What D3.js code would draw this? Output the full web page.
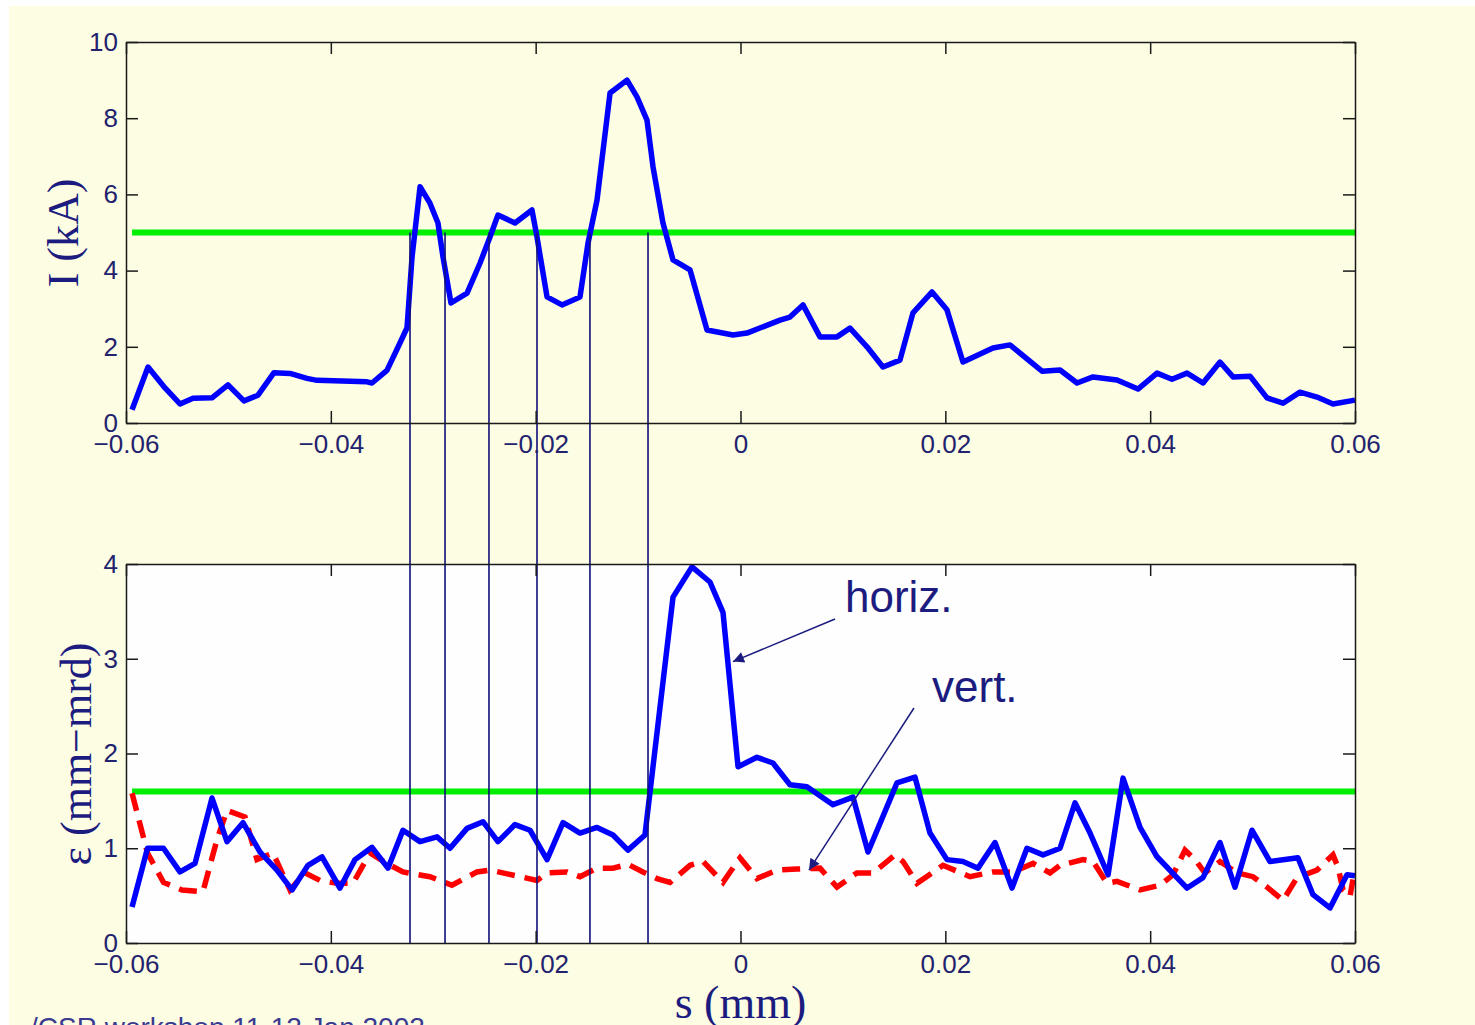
<!DOCTYPE html>
<html>
<head>
<meta charset="utf-8">
<script src="https://cdn.jsdelivr.net/npm/d3@7"></script>
<style>
  body { margin: 0; background: #fff; overflow: hidden; }
  .tick text { font-family: Arial, "Liberation Sans", sans-serif; font-size: 26px; fill: #22226e; }
  .tick line, .domain { stroke: #1a1a1a; stroke-width: 1.5; }
</style>
</head>
<body>
<div id="chart"></div>
<script>
// current profile (top)
const sTop = [-0.05941, -0.05785, -0.05619, -0.05473, -0.05346, -0.05160, -0.05004, -0.04848, -0.04711, -0.04555,
  -0.04399, -0.04233, -0.04135, -0.03647, -0.03598, -0.03452, -0.03325, -0.03256, -0.03207, -0.03129,
  -0.03032, -0.02954, -0.02905, -0.02827, -0.02670, -0.02543, -0.02446, -0.02368, -0.02202, -0.02036,
  -0.01987, -0.01889, -0.01743, -0.01567, -0.01489, -0.01401, -0.01274, -0.01108, -0.01011, -0.00913,
  -0.00854, -0.00757, -0.00659, -0.00493, -0.00327, -0.00073, 0.00063, 0.00386, 0.00483, 0.00610,
  0.00776, 0.00942, 0.01069, 0.01235, 0.01391, 0.01557, 0.01684, 0.01870, 0.02016, 0.02172,
  0.02465, 0.02631, 0.02944, 0.03120, 0.03286, 0.03442, 0.03676, 0.03881, 0.04067, 0.04213,
  0.04360, 0.04516, 0.04682, 0.04809, 0.04975, 0.05141, 0.05297, 0.05463, 0.05629, 0.05785, 0.06];
const current = [0.35, 1.47, 0.92, 0.5, 0.65, 0.66, 1.0, 0.58, 0.73, 1.32,
  1.3, 1.17, 1.12, 1.08, 1.05, 1.38, 2.1, 2.5, 4.36, 6.2,
  5.77, 5.25, 4.36, 3.15, 3.41, 4.2, 4.88, 5.46, 5.25, 5.59,
  4.88, 3.31, 3.1, 3.31, 4.72, 5.85, 8.66, 9.0, 8.56, 7.95,
  6.72, 5.25, 4.28, 4.02, 2.44, 2.31, 2.36, 2.7, 2.78, 3.1,
  2.26, 2.26, 2.49, 2.0, 1.47, 1.65, 2.89, 3.44, 2.97, 1.6,
  1.97, 2.05, 1.36, 1.39, 1.05, 1.21, 1.13, 0.89, 1.31, 1.15,
  1.31, 1.05, 1.6, 1.21, 1.23, 0.66, 0.52, 0.81, 0.68, 0.5, 0.6];

// horizontal emittance (bottom, solid)
const sHoriz = [-0.05941, -0.05790, -0.05634, -0.05473, -0.05326, -0.05160, -0.05014, -0.04858, -0.04691, -0.04526,
  -0.04379, -0.04223, -0.04086, -0.03911, -0.03764, -0.03598, -0.03442, -0.03296, -0.03129, -0.02963,
  -0.02836, -0.02670, -0.02514, -0.02368, -0.02202, -0.02055, -0.01889, -0.01733, -0.01567, -0.01401,
  -0.01245, -0.01099, -0.00933, -0.00659, -0.00474, -0.00298, -0.00171, -0.00024, 0.00161, 0.00317,
  0.00483, 0.00649, 0.00903, 0.01098, 0.01245, 0.01528, 0.01704, 0.01850, 0.02016, 0.02172,
  0.02319, 0.02485, 0.02651, 0.02797, 0.02954, 0.03120, 0.03266, 0.03413, 0.03589, 0.03735,
  0.03901, 0.04067, 0.04360, 0.04516, 0.04682, 0.04828, 0.04994, 0.05170, 0.05443, 0.05590,
  0.05756, 0.05922, 0.06];
const emitHoriz = [0.38, 1.0, 1.0, 0.75, 0.84, 1.53, 1.07, 1.27, 0.96, 0.77,
  0.56, 0.82, 0.91, 0.58, 0.88, 1.01, 0.79, 1.19, 1.07, 1.12,
  1.0, 1.21, 1.28, 1.07, 1.25, 1.19, 0.88, 1.27, 1.16, 1.22,
  1.14, 0.98, 1.14, 3.65, 3.97, 3.81, 3.49, 1.86, 1.96, 1.9,
  1.67, 1.65, 1.46, 1.54, 0.96, 1.69, 1.75, 1.16, 0.88, 0.86,
  0.79, 1.06, 0.58, 1.0, 0.93, 1.0, 1.48, 1.16, 0.72, 1.74,
  1.22, 0.91, 0.58, 0.69, 1.06, 0.59, 1.19, 0.86, 0.9, 0.51,
  0.37, 0.72, 0.71];

// vertical emittance (bottom, dashed)
const sVert = [-0.05941, -0.05790, -0.05634, -0.05454, -0.05249, -0.05112, -0.05014, -0.04838, -0.04721, -0.04565,
  -0.04399, -0.04253, -0.04106, -0.03940, -0.03784, -0.03618, -0.03452, -0.03296, -0.03032, -0.02817,
  -0.02573, -0.02446, -0.02153, -0.01987, -0.01889, -0.01694, -0.01567, -0.01401, -0.01245, -0.01099,
  -0.00952, -0.00815, -0.00688, -0.00493, -0.00366, -0.00171, -0.00005, 0.00161, 0.00356, 0.00552,
  0.00776, 0.00942, 0.01137, 0.01294, 0.01509, 0.01587, 0.01723, 0.01977, 0.02241, 0.02465,
  0.02661, 0.02856, 0.03022, 0.03120, 0.03345, 0.03442, 0.03579, 0.03676, 0.03901, 0.04096,
  0.04223, 0.04340, 0.04438, 0.04535, 0.04682, 0.04848, 0.05004, 0.05141, 0.05297, 0.05434,
  0.05629, 0.05785, 0.05834, 0.05883, 0.05951, 0.05980];
const emitVert = [1.58, 0.95, 0.64, 0.56, 0.54, 1.09, 1.4, 1.33, 0.88, 0.95,
  0.56, 0.74, 0.66, 0.63, 0.63, 0.95, 0.84, 0.75, 0.7, 0.61,
  0.75, 0.77, 0.7, 0.66, 0.74, 0.75, 0.7, 0.79, 0.79, 0.83,
  0.75, 0.68, 0.64, 0.82, 0.86, 0.64, 0.9, 0.68, 0.77, 0.78,
  0.79, 0.59, 0.74, 0.74, 0.93, 0.86, 0.63, 0.82, 0.7, 0.75,
  0.75, 0.84, 0.74, 0.82, 0.88, 0.86, 0.63, 0.65, 0.56, 0.61,
  0.72, 0.98, 0.88, 0.74, 0.86, 0.74, 0.7, 0.59, 0.45, 0.69,
  0.77, 0.93, 0.8, 0.56, 0.49, 0.67];

// thresholds and slice boundaries
const currentLevel = 5;
const emitLevel = 1.6;
const crossings = [-0.03227, -0.02885, -0.02456, -0.01987, -0.01470, -0.00903];

const xTicks = [-0.06, -0.04, -0.02, 0, 0.02, 0.04, 0.06];
const yTopTicks = [0, 2, 4, 6, 8, 10];
const yBotTicks = [0, 1, 2, 3, 4];

const W = 1475, H = 1025;
const navy = "#1c1c80";

const svg = d3.select("#chart").append("svg")
  .attr("width", W).attr("height", H);

svg.append("rect").attr("x", 9).attr("y", 6)
  .attr("width", W - 9).attr("height", H - 6).attr("fill", "#fdfde3");

const left = 126, right = 1355;
const x = d3.scaleLinear().domain([-0.06, 0.06]).range([left, right]);
const yTop = d3.scaleLinear().domain([0, 10]).range([423, 42]);
const yBot = d3.scaleLinear().domain([0, 4]).range([943, 564]);

svg.append("rect")
  .attr("x", left).attr("y", yBot(4))
  .attr("width", right - left).attr("height", yBot(0) - yBot(4))
  .attr("fill", "#fefefe");

const fmt = d3.format("~g");

function frame(y, ticks) {
  const [y0, y1] = y.range();
  svg.append("g").attr("transform", `translate(0,${y0})`)
    .call(d3.axisBottom(x).tickValues(xTicks).tickFormat(fmt).tickSize(-12).tickSizeOuter(0).tickPadding(12));
  svg.append("g").attr("transform", `translate(0,${y1})`)
    .call(d3.axisTop(x).tickValues(xTicks).tickFormat("").tickSize(-12).tickSizeOuter(0));
  svg.append("g").attr("transform", `translate(${left},0)`)
    .call(d3.axisLeft(y).tickValues(ticks).tickFormat(fmt).tickSize(-12).tickSizeOuter(0).tickPadding(8));
  svg.append("g").attr("transform", `translate(${right},0)`)
    .call(d3.axisRight(y).tickValues(ticks).tickFormat("").tickSize(-12).tickSizeOuter(0));
}

// threshold lines
svg.append("line")
  .attr("x1", x(sTop[0])).attr("x2", x(0.06))
  .attr("y1", yTop(currentLevel)).attr("y2", yTop(currentLevel))
  .attr("stroke", "#00ee00").attr("stroke-width", 6);
svg.append("line")
  .attr("x1", x(sHoriz[0])).attr("x2", x(0.06))
  .attr("y1", yBot(emitLevel)).attr("y2", yBot(emitLevel))
  .attr("stroke", "#00ee00").attr("stroke-width", 6);

const lineTop = d3.line().x(d => x(d[0])).y(d => yTop(d[1]));
const lineBot = d3.line().x(d => x(d[0])).y(d => yBot(d[1]));

svg.append("path")
  .datum(d3.zip(sTop, current))
  .attr("d", lineTop)
  .attr("fill", "none").attr("stroke", "#0000ff").attr("stroke-width", 5.5)
  .attr("stroke-linejoin", "round");

svg.append("path")
  .datum(d3.zip(sVert, emitVert))
  .attr("d", lineBot)
  .attr("fill", "none").attr("stroke", "#ff0000").attr("stroke-width", 5.5)
  .attr("stroke-dasharray", "18,10");

svg.append("path")
  .datum(d3.zip(sHoriz, emitHoriz))
  .attr("d", lineBot)
  .attr("fill", "none").attr("stroke", "#0000ff").attr("stroke-width", 5.5)
  .attr("stroke-linejoin", "round");

// slice boundaries
svg.selectAll(".cut")
  .data(crossings)
  .enter()
  .append("line")
  .attr("class", "cut")
  .attr("x1", d => x(d)).attr("x2", d => x(d))
  .attr("y1", yTop(currentLevel)).attr("y2", yBot(0))
  .attr("stroke", "#10107a").attr("stroke-width", 1.6);

frame(yTop, yTopTicks);
frame(yBot, yBotTicks);

// axis labels
const serif = "'Times New Roman', 'Liberation Serif', serif";
svg.append("text")
  .attr("transform", "translate(78,233) rotate(-90)")
  .attr("text-anchor", "middle")
  .attr("font-family", serif).attr("font-size", 44).attr("fill", navy)
  .text("I (kA)");
svg.append("text")
  .attr("transform", "translate(91,754) rotate(-90)")
  .attr("text-anchor", "middle")
  .attr("font-family", serif).attr("font-size", 44).attr("fill", navy)
  .text("ε (mm−mrd)");
svg.append("text")
  .attr("x", x(0)).attr("y", 1018)
  .attr("text-anchor", "middle")
  .attr("font-family", serif).attr("font-size", 46).attr("fill", navy)
  .text("s (mm)");

// annotations
svg.append("defs").append("marker")
  .attr("id", "head").attr("viewBox", "0 0 10 10")
  .attr("refX", 10).attr("refY", 5)
  .attr("markerWidth", 16).attr("markerHeight", 11)
  .attr("markerUnits", "userSpaceOnUse")
  .attr("orient", "auto")
  .append("path").attr("d", "M0,0 L10,5 L0,10 Z").attr("fill", navy);

const notes = [
  { label: "horiz.", tx: 0.0102, ty: 3.49, from: [0.00923, 3.42], to: [-0.00073, 2.97] },
  { label: "vert.", tx: 0.0187, ty: 2.54, from: [0.01694, 2.48], to: [0.00669, 0.77] }
];
notes.forEach(n => {
  svg.append("line")
    .attr("x1", x(n.from[0])).attr("y1", yBot(n.from[1]))
    .attr("x2", x(n.to[0])).attr("y2", yBot(n.to[1]))
    .attr("stroke", navy).attr("stroke-width", 1.5)
    .attr("marker-end", "url(#head)");
  svg.append("text")
    .attr("x", x(n.tx)).attr("y", yBot(n.ty))
    .attr("font-family", "Arial, 'Liberation Sans', sans-serif")
    .attr("font-size", 44).attr("fill", navy)
    .text(n.label);
});

svg.append("text")
  .attr("x", 30).attr("y", 1037)
  .attr("font-family", "Arial, 'Liberation Sans', sans-serif")
  .attr("font-size", 28).attr("fill", "#3a3a90")
  .text("/CSR workshop 11-12 Jan 2002");
</script>
</body>
</html>
